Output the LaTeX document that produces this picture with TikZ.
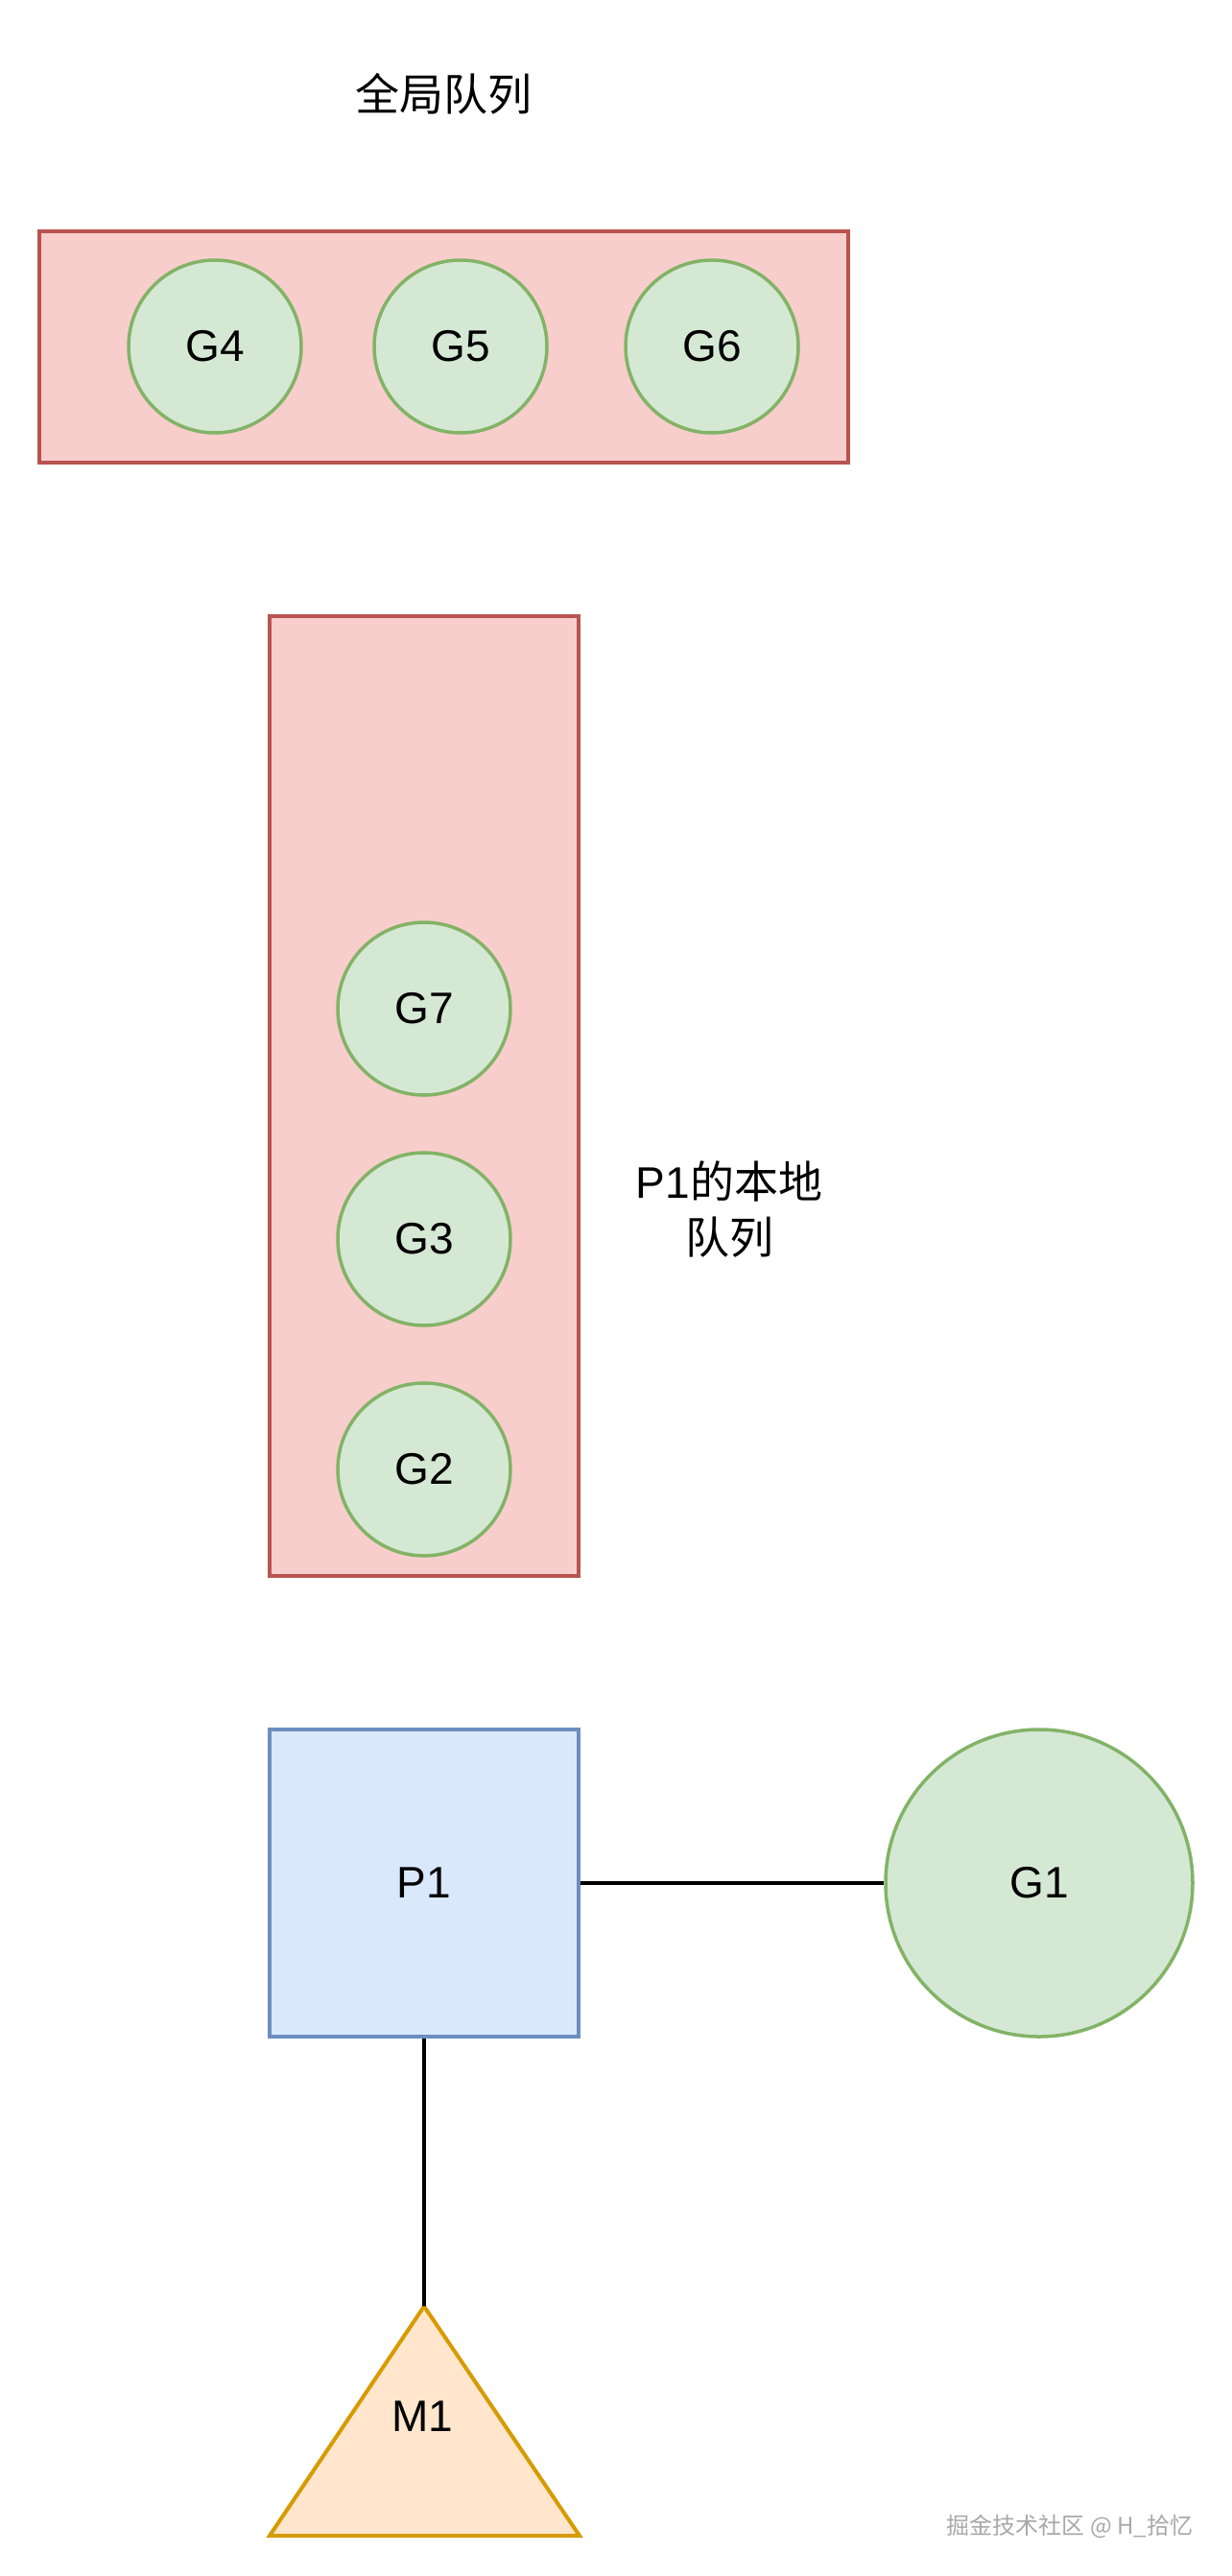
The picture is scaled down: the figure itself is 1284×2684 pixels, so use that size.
\documentclass[tikz,border=0pt]{standalone}
\usepackage{fontspec}
\setmainfont{Liberation Sans}
\newfontfamily\cjk{Noto Sans CJK SC}
\definecolor{redfill}{HTML}{F8CECC}
\definecolor{redline}{HTML}{B85450}
\definecolor{greenfill}{HTML}{D5E8D4}
\definecolor{greenline}{HTML}{82B366}
\definecolor{bluefill}{HTML}{DAE8FC}
\definecolor{blueline}{HTML}{6C8EBF}
\definecolor{orangefill}{HTML}{FFE6CC}
\definecolor{orangeline}{HTML}{D79B00}
\definecolor{wmgray}{HTML}{A8A8A8}
\tikzset{
  queuebox/.style={draw=redline, fill=redfill, line width=4pt},
  gcircle/.style={circle, draw=greenline, fill=greenfill, line width=3.5pt, inner sep=0pt, minimum size=180pt, font=\fontsize{46}{54}\selectfont},
  bigg/.style={gcircle, minimum size=320pt},
  pbox/.style={rectangle, draw=blueline, fill=bluefill, line width=3.5pt, inner sep=0pt, minimum width=322pt, minimum height=320pt, font=\fontsize{46}{54}\selectfont},
  lbl/.style={font=\fontsize{46}{58}\selectfont\cjk, align=center, inner sep=0pt},
  link/.style={draw=black, line width=3.5pt},
}
\begin{document}
\begin{tikzpicture}[x=1pt,y=-1pt]
\useasboundingbox (0,0) rectangle (1284,2684);
\fill[white] (0,0) rectangle (1284,2684);
% global queue
\node[lbl] (gtitle) at (462,98) {全局队列};
\draw[queuebox] (41,241) rectangle (884,482);
\node[gcircle] (g4) at (224,361) {G4};
\node[gcircle] (g5) at (480,361) {G5};
\node[gcircle] (g6) at (742,361) {G6};
% local queue
\draw[queuebox] (281,642) rectangle (603,1642);
\node[gcircle] (g7) at (442,1051) {G7};
\node[gcircle] (g3) at (442,1291) {G3};
\node[gcircle] (g2) at (442,1531) {G2};
\node[lbl] (llabel) at (760,1260) {{\rmfamily P1}的本地\\队列};
% P1, G1, M1
\node[pbox] (p1) at (442,1962) {P1};
\node[bigg] (g1) at (1083,1962) {G1};
\coordinate (m1top) at (442,2403);
\draw[draw=orangeline, fill=orangefill, line width=4pt, line join=miter] (m1top) -- (604,2642) -- (281,2642) -- cycle;
\node[font=\fontsize{46}{54}\selectfont, inner sep=0pt] (m1) at (440,2518) {M1};
\draw[link] (p1.east) -- (g1.west);
\draw[link] (p1.south) -- (m1top);
% watermark
\node[font=\fontsize{24}{28}\selectfont\cjk, text=wmgray, inner sep=0pt] (wm) at (1115,2632) {掘金技术社区 @ H\_拾忆};
\end{tikzpicture}
\end{document}
